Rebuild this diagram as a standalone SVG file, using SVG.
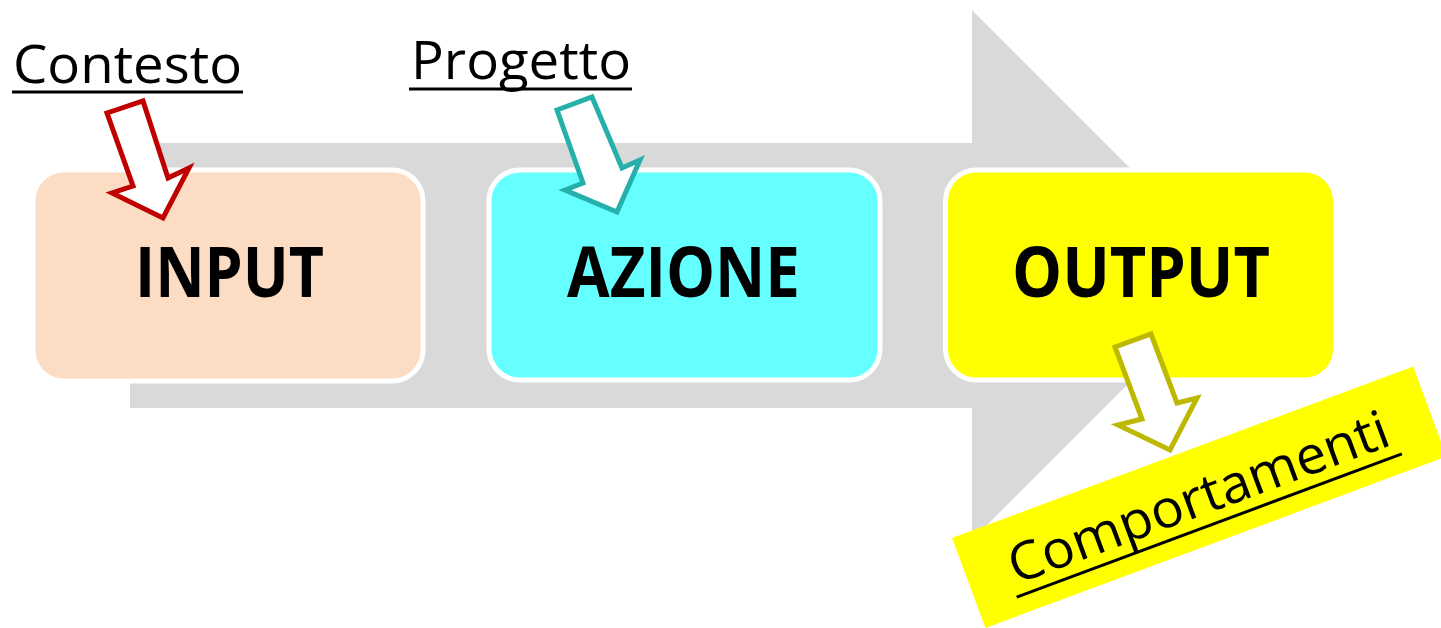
<svg xmlns="http://www.w3.org/2000/svg" width="1441" height="628" viewBox="0 0 1441 628">
  <style>
    .box { stroke: #ffffff; stroke-width: 5; }
    .big { font-family: "Open Sans", "Liberation Sans", sans-serif; font-weight: bold; font-size: 70px; fill: #000; text-anchor: middle; }
    .lbl { font-family: "Open Sans", "Liberation Sans", sans-serif; font-size: 53px; fill: #000; }
    .ul { stroke: #000; stroke-width: 3; }
    .harrow { fill: #ffffff; stroke-width: 5; stroke-linejoin: miter; }
  </style>
  <rect width="1441" height="628" fill="#ffffff"/>
  <g id="flow-arrow">
    <polygon points="130,143 972,143 972,10 1237,275 972,540 972,408 130,408" fill="#d9d9d9"/>
  </g>
  <g id="node-input">
    <rect class="box" x="33" y="170" width="390" height="211" rx="31" fill="#fcdcc2"/>
    <text class="big" x="229.5" y="297" textLength="189" lengthAdjust="spacingAndGlyphs">INPUT</text>
  </g>
  <g id="node-azione">
    <rect class="box" x="489" y="170" width="391" height="210" rx="31" fill="#66ffff"/>
    <text class="big" x="683.5" y="297" textLength="233" lengthAdjust="spacingAndGlyphs">AZIONE</text>
  </g>
  <g id="node-output">
    <rect class="box" x="945.5" y="170" width="390" height="210" rx="31" fill="#ffff00"/>
    <text class="big" x="1141" y="297" textLength="258" lengthAdjust="spacingAndGlyphs">OUTPUT</text>
  </g>
  <g id="label-contesto">
    <text class="lbl" x="13" y="83" textLength="229" lengthAdjust="spacingAndGlyphs">Contesto</text>
    <line class="ul" x1="12" y1="92" x2="243" y2="92"/>
  </g>
  <g id="label-progetto">
    <text class="lbl" x="411" y="79" textLength="220" lengthAdjust="spacingAndGlyphs">Progetto</text>
    <line class="ul" x1="409" y1="89" x2="632" y2="89"/>
  </g>
  <g id="label-comportamenti" transform="translate(952,538) rotate(-20.4)">
    <rect x="0" y="0" width="492" height="96" fill="#ffff00"/>
    <text class="lbl" x="44" y="66" font-size="55" textLength="402" lengthAdjust="spacingAndGlyphs">Comportamenti</text>
    <line class="ul" x1="40" y1="78" x2="451" y2="78"/>
  </g>
  <g id="connectors">
    <polygon class="harrow" stroke="#c00000" points="107,113 143,101 168,178 189,168 163,218 112,193 133,186"/>
    <polygon class="harrow" stroke="#26b0ac" points="557,110 592,97 622,168 640,160 617,212 565,190 583,183"/>
    <polygon class="harrow" stroke="#bdb800" points="1115,347 1151,334 1177,403 1197,398 1170,450 1118,425 1142,419"/>
  </g>
</svg>
